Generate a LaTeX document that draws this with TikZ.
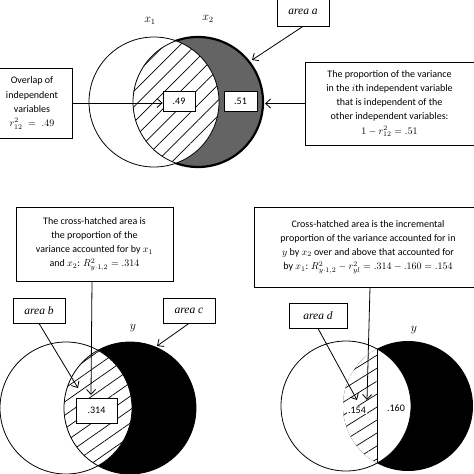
\documentclass[tikz,border=0pt]{standalone}
\usepackage{amsmath}
\usepackage[no-math]{fontspec}
\setmainfont{Carlito}
\newfontfamily\tagfont{Liberation Serif}
\usepackage{tikz}
\usetikzlibrary{patterns, patterns.meta, arrows.meta}
\definecolor{areagray}{RGB}{100,100,100}

\begin{document}
\begin{tikzpicture}[x=1pt, y=-1pt, line width=0.8pt, >={Straight Barb[length=5pt,width=9pt]},
    box/.style={draw, fill=white, align=center, inner sep=2pt, font=\fontsize{10}{14.2}\selectfont},
    val/.style={draw, fill=white, inner sep=0pt, font=\fontsize{10}{12}\selectfont},
    tag/.style={draw, fill=white, inner sep=0pt, minimum width=52pt, minimum height=25pt, font=\tagfont\itshape\fontsize{11.5}{13}\selectfont},
    varname/.style={font=\fontsize{12}{14}\selectfont},
    hatch/.style={pattern={Lines[angle=#1, distance=11pt, line width=0.7pt]}}]
    \useasboundingbox (0,0) rectangle (474,474);

    % top: two independent variables
    \fill[areagray] (198,102) circle (65);
    \begin{scope}
        \clip (154,102) circle (65);
        \fill[white] (198,102) circle (65);
        \fill[hatch=45] (198,102) circle (65);
    \end{scope}
    \begin{scope}[even odd rule]
        \clip (0,0) rectangle (474,474) (154,102) circle (65);
        \draw[line width=2.2pt] (198,102) circle (65);
    \end{scope}
    \draw (198,102) circle (65);
    \draw (154,102) circle (65);
    \node[varname] (x1) at (150,21) {$x_1$};
    \node[varname] (x2) at (208,19) {$x_2$};
    \node[val, minimum width=32pt, minimum height=20pt] (r49) at (179,101) {.49};
    \node[val, minimum width=33pt, minimum height=20pt] (r51) at (240.5,101) {.51};
    \node[box, minimum width=80pt, minimum height=70pt] (overlap) at (32,103)
        {Overlap of\\independent\\variables\\$r_{12}^2\;=\;.49$};
    \node[box, minimum width=169pt, minimum height=83pt] (prop) at (389.5,103.5)
        {The proportion of the variance\\in the $i$th independent variable\\that is independent of the\\other independent variables:\\$1-r_{12}^2=.51$};
    \node[tag, minimum height=28pt] (areaA) at (303,12) {area a};
    \coordinate (tipA) at (252,60);
    \coordinate (tipP) at (265,103.5);
    \draw[->] (overlap.east) -- (overlap.east -| r49.west);
    \draw[->] (prop.west) -- (tipP);
    \draw[->] (areaA.south) -- (tipA);

    % bottom left: y on x1 and x2
    \fill (130,408) circle (66);
    \begin{scope}
        \clip (66,408) circle (66);
        \fill[white] (130,408) circle (66);
        \fill[hatch=35] (130,408) circle (66);
    \end{scope}
    \draw (66,408) circle (66);
    \draw (130,408) circle (66);
    \node[varname] (yL) at (133,328) {$y$};
    \node[val, minimum width=41pt, minimum height=25pt] (r314) at (96.5,410.5) {.314};
    \node[box, minimum width=157pt, minimum height=74pt] (sumL) at (94.5,244)
        {The cross-hatched area is\\the proportion of the\\variance accounted for by $x_1$\\and $x_2$: $R^2_{y\cdot1,2}=.314$};
    \node[tag] (areaB) at (39,310.5) {area b};
    \node[tag] (areaC) at (189,310.5) {area c};
    \coordinate (tipB) at (78,388);
    \coordinate (tipC) at (157,346);
    \coordinate (tipL) at (91,395);
    \draw[->] (sumL.south -| 92,0) -- (tipL);
    \draw[->] (areaB.south) -- (tipB);
    \draw[->] (areaC.south) -- (tipC);

    % bottom right: increment of x2 over x1
    \fill (408,406) circle (65);
    \begin{scope}
        \clip (346,406) circle (65);
        \fill[white] (408,406) circle (65);
    \end{scope}
    \begin{scope}
        \clip (300,330) rectangle (377,480);
        \fill[hatch=32] (408,406) circle (65);
    \end{scope}
    \draw (346,406) circle (65);
    \coordinate (cutT) at (377,349);
    \coordinate (cutB) at (377,463);
    \draw (cutT) -- (cutB);
    \node[varname] (yR) at (414,330) {$y$};
    \node[fill=white, inner sep=1pt, font=\fontsize{10}{12}\selectfont] (r154) at (357,410) {.154};
    \node[font=\fontsize{10}{12}\selectfont] (r160) at (396,408) {.160};
    \node[box, minimum width=228pt, minimum height=80pt] (sumR) at (368,247)
        {Cross-hatched area is the incremental\\proportion of the variance accounted for in\\$y$ by $x_2$ over and above that accounted for\\by $x_1$: $R^2_{y\cdot1,2}-r^2_{yl}=.314-.160=.154$};
    \node[tag, minimum width=58pt] (areaD) at (318,315.5) {area d};
    \coordinate (tipD) at (357,400);
    \coordinate (tipR) at (367,400);
    \draw[->] (sumR.south -| 370,0) -- (tipR);
    \draw[->] (areaD.south) -- (tipD);
\end{tikzpicture}
\end{document}
